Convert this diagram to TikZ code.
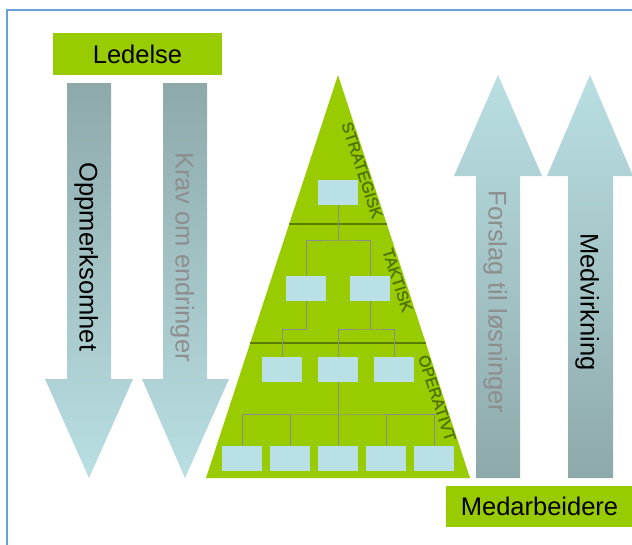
\documentclass[tikz,border=0pt]{standalone}
\usepackage{fontspec}
\setmainfont{Liberation Sans}
\newfontfamily\levelfont[FakeBold=1.2]{Liberation Sans}
\definecolor{lgreen}{HTML}{99CC00}
\definecolor{dkgreen}{HTML}{4F7200}
\definecolor{divgreen}{HTML}{5A7D00}
\definecolor{boxblue}{HTML}{B9E0E4}
\definecolor{connGray}{HTML}{8C8C8C}
\definecolor{arrLight}{HTML}{B9DFE3}
\definecolor{arrDark}{HTML}{8EA9AA}
\definecolor{frameBlue}{HTML}{6A9FD9}
\definecolor{txtGray}{HTML}{8E8E8E}
\begin{document}
\begin{tikzpicture}[x=1pt,y=-1pt,
  big/.style={font=\fontsize{25.5}{30}\selectfont},
  greenbox/.style={fill=lgreen, inner sep=0pt, big, text=black},
  orgbox/.style={fill=boxblue, minimum width=40pt, minimum height=25pt, inner sep=0pt},
  conn/.style={draw=connGray, line width=1pt},
  divider/.style={draw=divgreen, line width=1.1pt},
  level/.style={font=\levelfont\fontsize{16}{19}\selectfont, text=dkgreen, rotate=-71.9, inner sep=0pt},
  downarrow/.style={top color=arrDark, bottom color=arrLight, draw=none},
  uparrow/.style={top color=arrLight, bottom color=arrDark, draw=none},
  arrtext/.style={big, rotate=-90, anchor=base, inner sep=0pt}]
\useasboundingbox (0,0) rectangle (632,544);
\fill[white] (0,0) rectangle (632,544);
\draw[draw=frameBlue, line width=1.5pt] (7,10) rectangle (660,570);

% top / bottom labels
\node[greenbox, minimum width=169pt, minimum height=42pt] (ledelse) at (137.5,54) {Ledelse};
\node[greenbox, minimum width=187pt, minimum height=41pt] (medarb) at (539.5,506.5) {Medarbeidere};

% down arrows
\path[downarrow] (67,83) -- (111,83) -- (111,379) -- (133,379) -- (89,478) -- (45,379) -- (67,379) -- cycle;
\path[downarrow] (163,83) -- (207,83) -- (207,379) -- (229,379) -- (185,478) -- (142,379) -- (163,379) -- cycle;
\node[arrtext, text=black] (oppm) at (79.5,257) {Oppmerksomhet};
\node[arrtext, text=txtGray] (krav) at (175.5,257) {Krav om endringer};

% up arrows
\path[uparrow] (498,75) -- (542,176) -- (520,176) -- (520,478) -- (476,478) -- (476,176) -- (454,176) -- cycle;
\path[uparrow] (590,75) -- (633,176) -- (613,176) -- (613,478) -- (568,478) -- (568,176) -- (547,176) -- cycle;
\node[arrtext, text=txtGray] (forslag) at (488.5,302) {Forslag til løsninger};
\node[arrtext, text=black] (medv) at (580.5,302) {Medvirkning};

% pyramid
\fill[lgreen] (338,75) -- (470,478) -- (206,478) -- cycle;
\draw[divider] (289.2,224) -- (386.8,224);
\draw[divider] (250.2,343) -- (425.8,343);

\node[level] (strat) at (362,170) {STRATEGISK};
\node[level] (takt) at (397.5,280) {TAKTISK};
\node[level] (oper) at (437,398) {OPERATIVT};

% org boxes
\node[orgbox] (s1) at (338,192.5) {};
\node[orgbox] (t1) at (306,288.5) {};
\node[orgbox] (t2) at (370,288.5) {};
\node[orgbox] (o1) at (282,369.5) {};
\node[orgbox] (o2) at (338,369.5) {};
\node[orgbox] (o3) at (394,369.5) {};
\node[orgbox] (p1) at (242,458.5) {};
\node[orgbox] (p2) at (290,458.5) {};
\node[orgbox] (p3) at (338,458.5) {};
\node[orgbox] (p4) at (386,458.5) {};
\node[orgbox] (p5) at (434,458.5) {};

\coordinate (j1) at (338,240);
\coordinate (j2a) at (306,329);
\coordinate (j2b) at (370,329);
\coordinate (j3) at (338,414);

\draw[conn] (s1.south) -- (j1);
\draw[conn] (t1.north) |- (j1) -| (t2.north);
\draw[conn] (t1.south) -- (j2a) -| (o1.north);
\draw[conn] (t2.south) -- (j2b);
\draw[conn] (o2.north) |- (j2b) -| (o3.north);
\draw[conn] (o2.south) -- (j3);
\draw[conn] (p1.north) |- (j3) -| (p5.north);
\draw[conn] (p2.north) -- (p2.north |- j3);
\draw[conn] (p3.north) -- (p3.north |- j3);
\draw[conn] (p4.north) -- (p4.north |- j3);
\end{tikzpicture}
\end{document}
